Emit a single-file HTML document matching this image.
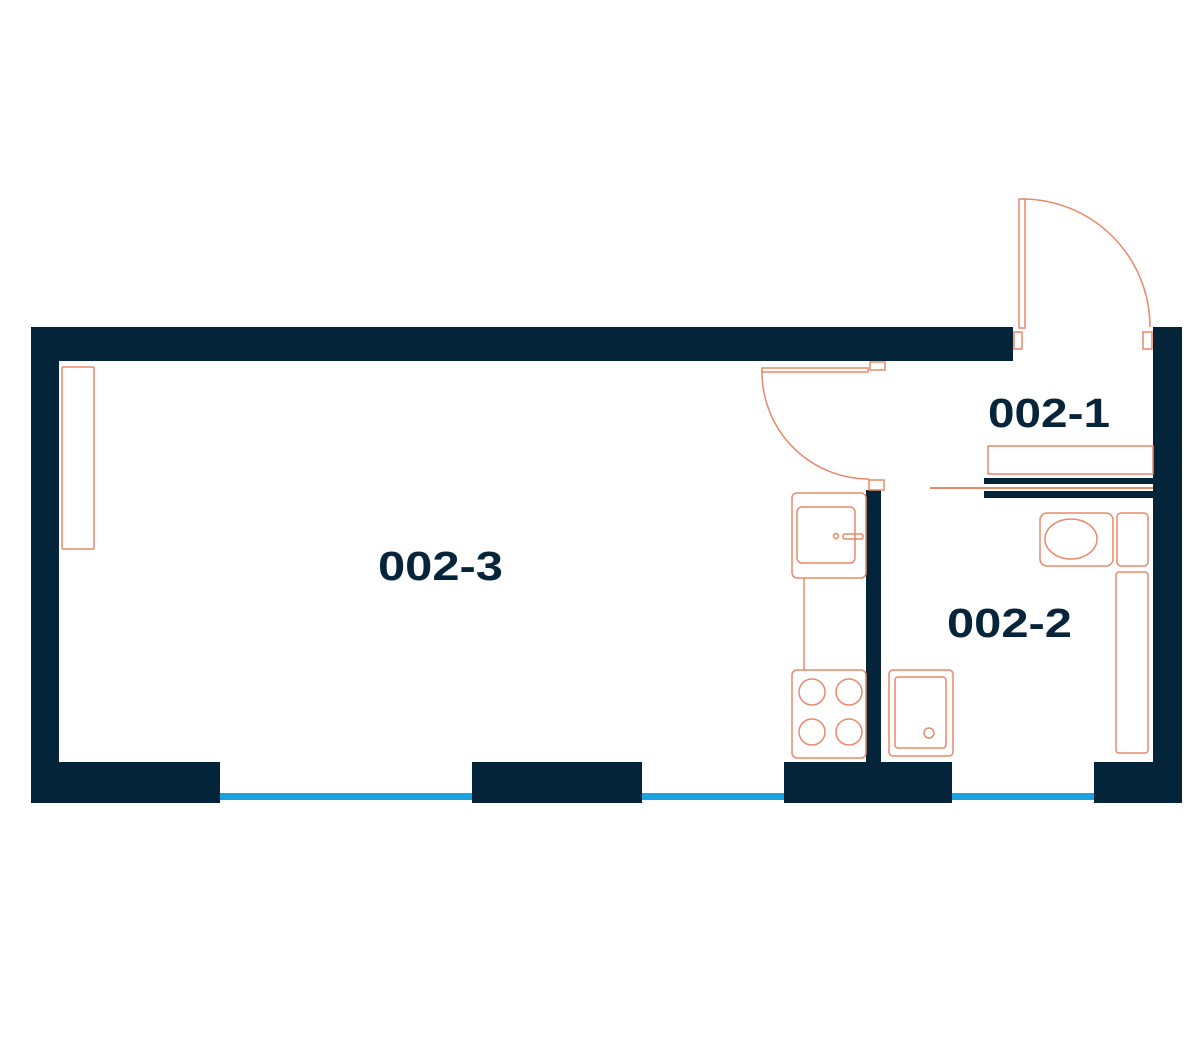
<!DOCTYPE html>
<html><head><style>
html,body{margin:0;padding:0;background:#fff;}
svg{display:block;}
text{font-family:"Liberation Sans",sans-serif;font-weight:bold;fill:#06253b;font-size:41px;}
</style></head><body>
<svg width="1200" height="1064" viewBox="0 0 1200 1064" xmlns="http://www.w3.org/2000/svg">
<g fill="#04243a">
<rect x="31" y="327" width="982" height="34"/>
<rect x="31" y="327" width="28" height="476"/>
<rect x="1153" y="327" width="29" height="476"/>
<rect x="31" y="762" width="189" height="41"/>
<rect x="472" y="762" width="170" height="41"/>
<rect x="784" y="762" width="168" height="41"/>
<rect x="1094" y="762" width="88" height="41"/>
<rect x="866" y="490" width="15" height="272"/>
<rect x="984" y="478" width="169" height="6"/>
<rect x="984" y="491" width="169" height="7"/>
</g>
<g fill="#1aa3e0">
<rect x="220" y="793" width="252" height="7"/>
<rect x="642" y="793" width="142" height="7"/>
<rect x="952" y="793" width="142" height="7"/>
</g>
<g fill="none" stroke="#e8896a" stroke-width="1.5">
<line x1="930" y1="488" x2="1153" y2="488" stroke-width="2"/>
<rect x="1019" y="199" width="6" height="129"/>
<path d="M1022 199 A128 128 0 0 1 1150 327"/>
<rect x="1014" y="332" width="8" height="17"/>
<rect x="1143" y="332" width="9" height="17"/>
<rect x="762" y="368" width="106" height="4"/>
<rect x="870" y="362" width="15" height="8"/>
<path d="M762 370 A107 107 0 0 0 869 479"/>
<rect x="869" y="480" width="15" height="10"/>
<rect x="62" y="367" width="32" height="182" rx="1"/>
<rect x="792" y="493" width="74" height="85" rx="5"/>
<rect x="797" y="507" width="58" height="56" rx="5"/>
<circle cx="836" cy="536" r="2.5"/>
<rect x="843" y="534" width="20" height="5" rx="2"/>
<line x1="804" y1="578" x2="804" y2="670"/>
<rect x="792" y="670" width="74" height="88" rx="5"/>
<circle cx="812" cy="692" r="13"/><circle cx="849" cy="692" r="13"/>
<circle cx="812" cy="732" r="13"/><circle cx="849" cy="732" r="13"/>
<rect x="889" y="670" width="64" height="86" rx="4"/>
<rect x="895" y="677" width="51" height="71" rx="3"/>
<circle cx="929" cy="733" r="5"/>
<rect x="1040" y="513" width="73" height="53" rx="7"/>
<ellipse cx="1071" cy="539" rx="26" ry="20"/>
<rect x="1117" y="513" width="31" height="53" rx="4"/>
<rect x="1116" y="572" width="32" height="181" rx="3"/>
<rect x="988" y="446" width="165" height="28"/>
</g>
<text x="988" y="427" textLength="122" lengthAdjust="spacingAndGlyphs">002-1</text>
<text x="378" y="580" textLength="125" lengthAdjust="spacingAndGlyphs">002-3</text>
<text x="947" y="637" textLength="125" lengthAdjust="spacingAndGlyphs">002-2</text>
</svg>
</body></html>
